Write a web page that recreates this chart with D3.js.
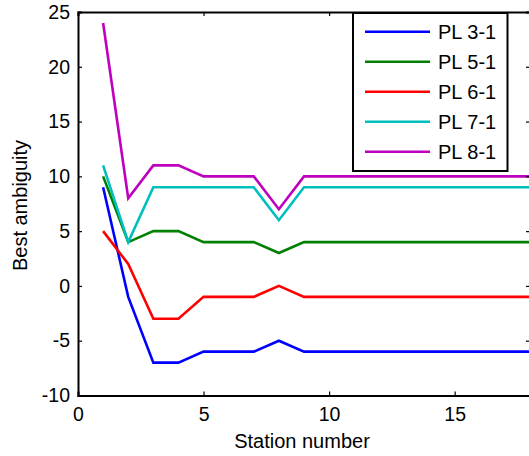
<!DOCTYPE html>
<html>
<head>
<meta charset="utf-8">
<script src="https://cdn.jsdelivr.net/npm/d3@7"></script>
<style>
  html, body { margin: 0; padding: 0; background: #fff; overflow: hidden; }
  svg { display: block; }
  text { font-family: "Liberation Sans", Arial, sans-serif; fill: #000; }
</style>
</head>
<body>
<svg id="chart" width="529" height="456"></svg>
<script>
// Station indices along the survey line
const stations = [1, 2, 3, 4, 5, 6, 7, 8, 9, 10, 11, 12, 13, 14, 15, 16, 17, 18];

// Best ambiguity per station, one array per plate pair
const pl31 = [9, -1, -7, -7, -6, -6, -6, -5, -6, -6, -6, -6, -6, -6, -6, -6, -6, -6];
const pl51 = [10, 4, 5, 5, 4, 4, 4, 3, 4, 4, 4, 4, 4, 4, 4, 4, 4, 4];
const pl61 = [5, 2, -3, -3, -1, -1, -1, 0, -1, -1, -1, -1, -1, -1, -1, -1, -1, -1];
const pl71 = [11, 4, 9, 9, 9, 9, 9, 6, 9, 9, 9, 9, 9, 9, 9, 9, 9, 9];
const pl81 = [24, 8, 11, 11, 10, 10, 10, 7, 10, 10, 10, 10, 10, 10, 10, 10, 10, 10];

const seriesNames = ["PL 3-1", "PL 5-1", "PL 6-1", "PL 7-1", "PL 8-1"];
const seriesColors = ["#0000ff", "#008000", "#ff0000", "#00bfbf", "#bf00bf"];
const seriesValues = [pl31, pl51, pl61, pl71, pl81];

const xTicks = [0, 5, 10, 15];
const yTicks = [-10, -5, 0, 5, 10, 15, 20, 25];

const svg = d3.select("#chart");
const plotLeft = 78, plotRight = 530, plotTop = 12, plotBottom = 395.5;

const x = d3.scaleLinear().domain([0, 18]).range([plotLeft, plotRight]);
const y = d3.scaleLinear().domain([-10, 25]).range([plotBottom, plotTop]);

const tickFont = 19.5;
const labelFont = 20;
const tickLen = 4;
// plain hyphen for negative numbers
const fmt = d => String(d);

// Data lines
const line = d3.line()
  .x((d, i) => x(stations[i]))
  .y(d => y(d));

const plot = svg.append("g");
seriesValues.forEach((vals, k) => {
  plot.append("path")
    .datum(vals)
    .attr("d", line)
    .attr("fill", "none")
    .attr("stroke", seriesColors[k])
    .attr("stroke-width", 2.6)
    .attr("stroke-linejoin", "miter");
});

// Axes box with inward ticks
const axisColor = "#000";
const bottomAxis = d3.axisBottom(x).tickValues(xTicks).tickSize(-tickLen).tickPadding(12).tickFormat(fmt);
const leftAxis = d3.axisLeft(y).tickValues(yTicks).tickSize(-tickLen).tickPadding(8).tickFormat(fmt);
const topAxis = d3.axisTop(x).tickValues(xTicks).tickSize(-tickLen).tickFormat("");
const rightAxis = d3.axisRight(y).tickValues(yTicks).tickSize(-tickLen).tickFormat("");

function styleAxis(g) {
  g.select(".domain").attr("stroke", axisColor).attr("stroke-width", 2);
  g.selectAll(".tick line").attr("stroke", axisColor).attr("stroke-width", 1.2);
  g.selectAll(".tick text")
    .attr("font-size", tickFont)
    .attr("font-family", "Liberation Sans, Arial, sans-serif")
    .attr("fill", "#000");
}

svg.append("g").attr("transform", `translate(0,${plotBottom})`).call(bottomAxis).call(styleAxis);
svg.append("g").attr("transform", `translate(${plotLeft},0)`).call(leftAxis).call(styleAxis);
svg.append("g").attr("transform", `translate(0,${plotTop})`).call(topAxis).call(styleAxis);
svg.append("g").attr("transform", `translate(${plotRight},0)`).call(rightAxis).call(styleAxis);

// Axis titles
svg.append("text")
  .attr("x", 302)
  .attr("y", 448)
  .attr("text-anchor", "middle")
  .attr("font-size", labelFont)
  .text("Station number");

svg.append("text")
  .attr("transform", `translate(27,205.5) rotate(-90)`)
  .attr("text-anchor", "middle")
  .attr("font-size", labelFont)
  .text("Best ambiguity");

// Legend
const legend = svg.append("g");
legend.append("rect")
  .attr("x", 353).attr("y", 13)
  .attr("width", 154.5).attr("height", 158)
  .attr("fill", "#fff")
  .attr("stroke", "#000")
  .attr("stroke-width", 2);

seriesNames.forEach((name, k) => {
  const ly = 31.7 + k * 30;
  legend.append("line")
    .attr("x1", 365).attr("x2", 430)
    .attr("y1", ly).attr("y2", ly)
    .attr("stroke", seriesColors[k])
    .attr("stroke-width", 2.6);
  legend.append("text")
    .attr("x", 438)
    .attr("y", ly)
    .attr("dy", "0.35em")
    .attr("font-size", 20)
    .text(name);
});
</script>
</body>
</html>
